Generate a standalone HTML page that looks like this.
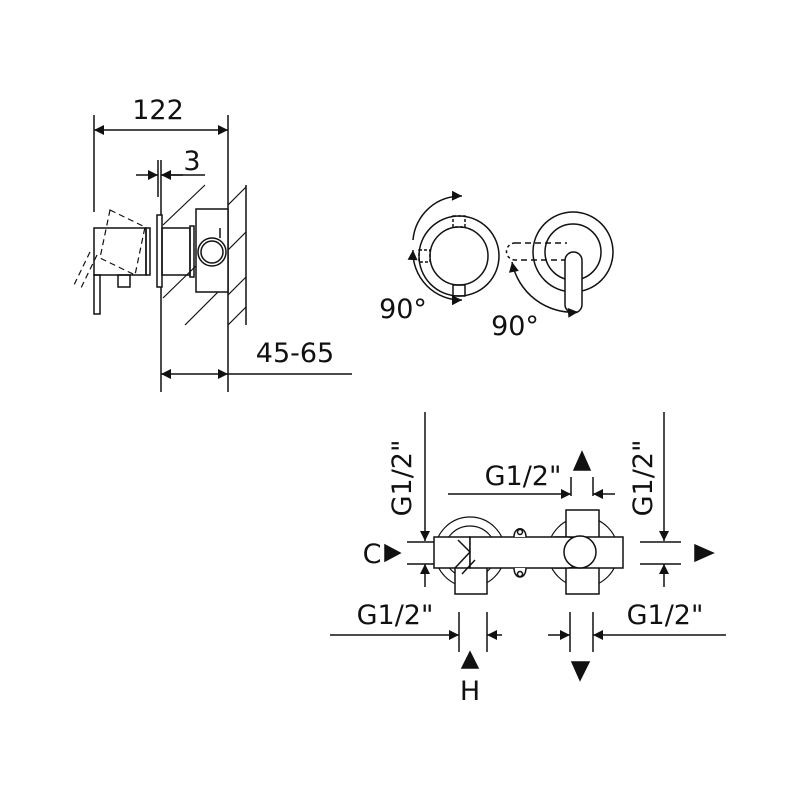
<!DOCTYPE html>
<html><head><style>body{margin:0;background:#fff}svg{display:block}text{font-family:"DejaVu Sans","Liberation Sans",sans-serif;fill:#111}</style></head><body>
<svg width="800" height="800" viewBox="0 0 800 800" xmlns="http://www.w3.org/2000/svg" stroke="#111" stroke-width="1.5" fill="none">
<defs>
<marker id="a" viewBox="0 0 10 10" refX="10" refY="5" markerWidth="16" markerHeight="10" orient="auto-start-reverse" markerUnits="userSpaceOnUse"><path d="M0,0L10,5L0,10z" fill="#111" stroke="none"/></marker>
</defs>
<line x1="94" y1="115" x2="94" y2="212"/>
<line x1="228" y1="115" x2="228" y2="392"/>
<line x1="94" y1="130" x2="228" y2="130" marker-start="url(#a)" marker-end="url(#a)"/>
<text x="158" y="119" font-size="27" text-anchor="middle" stroke="none">122</text>
<line x1="158" y1="160" x2="158" y2="197"/>
<line x1="161" y1="160" x2="161" y2="392"/>
<line x1="136" y1="175" x2="158" y2="175" marker-end="url(#a)"/>
<line x1="183" y1="175" x2="161" y2="175" marker-end="url(#a)"/>
<line x1="161" y1="175" x2="205" y2="175"/>
<text x="192" y="170" font-size="27" text-anchor="middle" stroke="none">3</text>
<line x1="161" y1="374" x2="228" y2="374" marker-start="url(#a)" marker-end="url(#a)"/>
<line x1="228" y1="374" x2="352" y2="374"/>
<text x="295" y="362" font-size="27" text-anchor="middle" stroke="none">45-65</text>
<line x1="246" y1="185" x2="246" y2="325"/>
<g stroke-width="1.2">
<line x1="163" y1="225" x2="205" y2="185"/><line x1="163" y1="298" x2="200" y2="262"/>
<line x1="185" y1="325" x2="220" y2="290"/><line x1="228" y1="205" x2="246" y2="187"/>
<line x1="228" y1="250" x2="246" y2="232"/><line x1="228" y1="295" x2="246" y2="277"/>
<line x1="228" y1="325" x2="246" y2="307"/>
</g>
<rect x="94" y="228" width="52" height="47" fill="#fff"/>
<rect x="94" y="275" width="6" height="39"/>
<rect x="118" y="275" width="12" height="12"/>
<rect x="146" y="228" width="4" height="47"/>
<rect x="157" y="215" width="5" height="72" fill="#fff"/>
<rect x="162" y="228" width="28" height="47"/>
<rect x="190" y="226" width="4" height="51"/>
<rect x="196" y="209" width="32" height="83" fill="#fff"/>
<circle cx="212" cy="252" r="14"/><circle cx="212" cy="252" r="11"/>
<line x1="220" y1="228" x2="220" y2="238"/>
<g stroke-dasharray="6,4" stroke-width="1.2">
<polygon points="110,210 145,227 135,275 100,258"/>
<line x1="90" y1="252" x2="73" y2="287"/><line x1="97" y1="255" x2="80" y2="290"/>
</g>
<circle cx="459" cy="256" r="40"/><circle cx="459" cy="256" r="29"/>
<rect x="453" y="216" width="12" height="11" stroke-dasharray="3,2"/>
<rect x="453" y="285" width="12" height="11"/>
<rect x="419" y="250" width="11" height="12" stroke-dasharray="3,2"/>
<path d="M413,240 A48,48 0 0 1 462,196" marker-end="url(#a)"/>
<path d="M413,250 A48,48 0 0 0 462,300" marker-start="url(#a)" marker-end="url(#a)"/>
<text x="403" y="318" font-size="27" text-anchor="middle" stroke="none">90°</text>
<circle cx="573" cy="252" r="40"/><circle cx="573" cy="252" r="28"/>
<path d="M567,260 L515,260 M515,243 L567,243" stroke-dasharray="6,4"/>
<path d="M515,243 A8,8 0 0 0 515,260" stroke-dasharray="3,3"/>
<rect x="565" y="252" width="17" height="61" rx="8.5" fill="#fff"/>
<path d="M512,262 A62,62 0 0 0 578,312" marker-start="url(#a)" marker-end="url(#a)"/>
<text x="515" y="335" font-size="27" text-anchor="middle" stroke="none">90°</text>
<line x1="425" y1="412" x2="425" y2="541" marker-end="url(#a)"/>
<line x1="425" y1="587" x2="425" y2="564" marker-end="url(#a)"/>
<line x1="664" y1="412" x2="664" y2="541" marker-end="url(#a)"/>
<line x1="664" y1="587" x2="664" y2="564" marker-end="url(#a)"/>
<line x1="407" y1="542" x2="440" y2="542"/><line x1="407" y1="564" x2="440" y2="564"/>
<line x1="640" y1="542" x2="681" y2="542"/><line x1="640" y1="564" x2="681" y2="564"/>
<path d="M385,545 L400,553 L385,561z" fill="#111"/>
<path d="M695,545 L713,553 L695,561z" fill="#111"/>
<text x="372" y="563" font-size="27" text-anchor="middle" stroke="none">C</text>
<text transform="translate(411,478) rotate(-90)" font-size="27" text-anchor="middle" stroke="none">G1/2"</text>
<text transform="translate(652,478) rotate(-90)" font-size="27" text-anchor="middle" stroke="none">G1/2"</text>
<line x1="448" y1="494" x2="571" y2="494" marker-end="url(#a)"/>
<line x1="615" y1="494" x2="593" y2="494" marker-end="url(#a)"/>
<line x1="571" y1="477" x2="571" y2="496"/><line x1="593" y1="477" x2="593" y2="496"/>
<path d="M574,470 L582,452 L590,470z" fill="#111"/>
<text x="523" y="485" font-size="27" text-anchor="middle" stroke="none">G1/2"</text>
<circle cx="470" cy="552" r="35" stroke-width="1.2"/>
<circle cx="583" cy="552" r="35" stroke-width="1.2"/>
<circle cx="470" cy="552" r="26" stroke-width="1.2"/>
<rect x="455" y="563" width="32" height="31" fill="#fff"/>
<rect x="434" y="537" width="36" height="31" fill="#fff"/>
<rect x="566" y="510" width="33" height="84" fill="#fff"/>
<rect x="555" y="537" width="68" height="31" fill="#fff"/>
<path d="M470,537 L568,537 A15,15 0 0 1 568,568 L470,568 z" fill="#fff"/>
<circle cx="580" cy="552" r="16" fill="#fff"/>
<path d="M458,540 L470,552 L455,568 M462,574 L475,560"/>
<path d="M514,537 C514,526 526,526 526,537" fill="#fff"/><circle cx="520" cy="532" r="2.5"/>
<path d="M514,568 C514,580 526,580 526,568" fill="#fff"/><circle cx="520" cy="574" r="2.5"/>
<line x1="459" y1="612" x2="459" y2="652"/><line x1="487" y1="612" x2="487" y2="652"/>
<line x1="330" y1="635" x2="459" y2="635" marker-end="url(#a)"/>
<line x1="502" y1="635" x2="487" y2="635" marker-end="url(#a)"/>
<path d="M462,668 L470,652 L478,668z" fill="#111"/>
<text x="395" y="624" font-size="27" text-anchor="middle" stroke="none">G1/2"</text>
<text x="470" y="700" font-size="27" text-anchor="middle" stroke="none">H</text>
<line x1="570" y1="612" x2="570" y2="652"/><line x1="593" y1="612" x2="593" y2="652"/>
<line x1="548" y1="635" x2="570" y2="635" marker-end="url(#a)"/>
<line x1="726" y1="635" x2="593" y2="635" marker-end="url(#a)"/>
<path d="M572,662 L589,662 L580,680z" fill="#111"/>
<text x="665" y="624" font-size="27" text-anchor="middle" stroke="none">G1/2"</text>
</svg>
</body></html>
